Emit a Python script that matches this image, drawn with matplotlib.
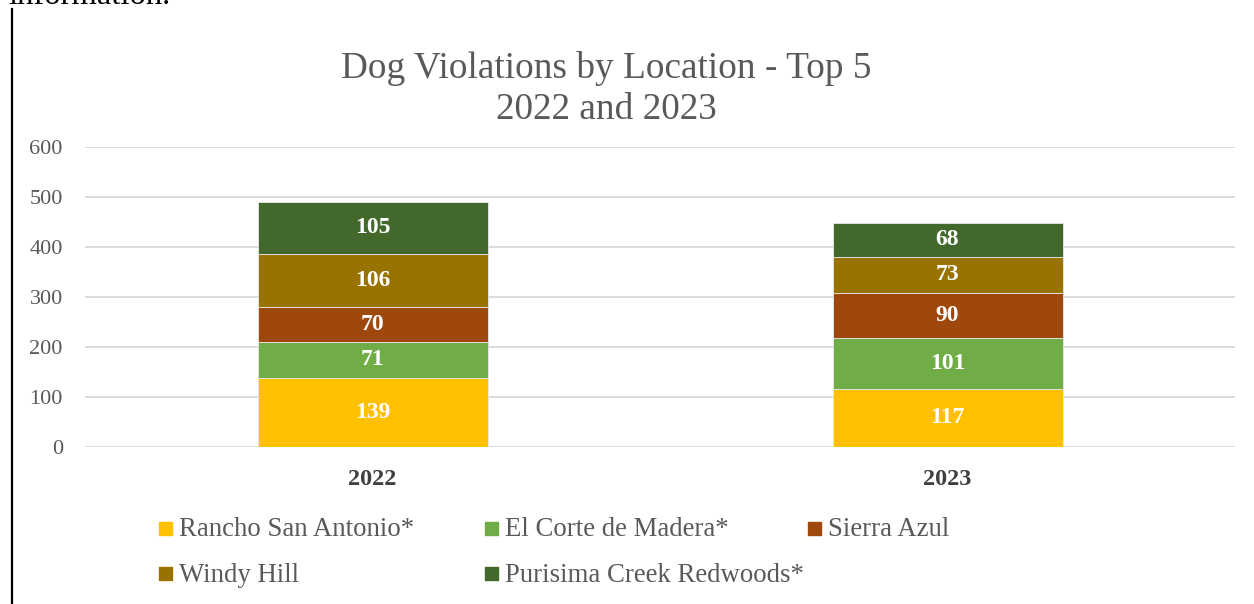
import matplotlib.pyplot as plt
from matplotlib.patches import Rectangle
from matplotlib.lines import Line2D

years = ["2022", "2023"]
locations = ["Rancho San Antonio*", "El Corte de Madera*", "Sierra Azul",
             "Windy Hill", "Purisima Creek Redwoods*"]
rancho = [139, 117]
corte = [71, 101]
sierra = [70, 90]
windy = [106, 73]
purisima = [105, 68]
colors = ["#FFC000", "#70AD47", "#9E480E", "#997300", "#43682B"]

plt.rcParams["font.family"] = ["Liberation Serif", "DejaVu Serif"]
grey = "#595959"

fig = plt.figure(figsize=(12.54, 6.04), dpi=100)
ax = fig.add_axes([85 / 1254, 157 / 604, 1150 / 1254, 300 / 604])

x = range(len(years))
bottom = [0, 0]
for name, vals, c in zip(locations, [rancho, corte, sierra, windy, purisima], colors):
    bars = ax.bar(x, vals, width=0.4, bottom=bottom, color=c, edgecolor="#e8e8e8",
                  linewidth=0.6, zorder=3, label=name)
    ax.bar_label(bars, labels=[str(v) for v in vals], label_type="center",
                 color="white", fontsize=17, fontweight="bold")
    bottom = [b + v for b, v in zip(bottom, vals)]

ax.set_xlim(-0.5, 1.5)
ax.set_ylim(0, 600)
ax.set_yticks(range(0, 601, 100))
ax.set_xticks(list(x))
ax.set_xticklabels(years, fontweight="bold", fontsize=17.5, color="#404040")
ax.tick_params(axis="y", length=0, pad=16, labelsize=16, labelcolor=grey)
ax.tick_params(axis="x", length=0, pad=16)
ax.grid(axis="y", color="#D9D9D9", linewidth=1.3, zorder=0)
for s in ax.spines.values():
    s.set_visible(False)

fig.text(606 / 1254, 1 - 89 / 604, "Dog Violations by Location - Top 5\n2022 and 2023",
         ha="center", va="center", fontsize=26.8, color=grey, linespacing=1.25)

# legend laid out like the spreadsheet's fixed columns
col_x = [159, 485, 808]
row_y = [528, 573]
for i, (name, c) in enumerate(zip(locations, colors)):
    px = col_x[i % 3]
    py = row_y[i // 3]
    fig.add_artist(Rectangle((px / 1254, 1 - (py + 7) / 604), 13 / 1254, 13 / 604,
                             transform=fig.transFigure, color=c))
    fig.text((px + 20) / 1254, 1 - (py + 2) / 604, name, ha="left", va="center",
             fontsize=19.3, color=grey)

# page fragments around the embedded chart
fig.add_artist(Line2D([11.5 / 1254, 11.5 / 1254], [0, 1 - 9 / 604],
                      transform=fig.transFigure, color="black", linewidth=1.6))
fig.text(8 / 1254, 1 - 4 / 604, "information.", ha="left", va="baseline",
         fontsize=23.5, color="black")

fig.savefig("out.png", dpi=100)
